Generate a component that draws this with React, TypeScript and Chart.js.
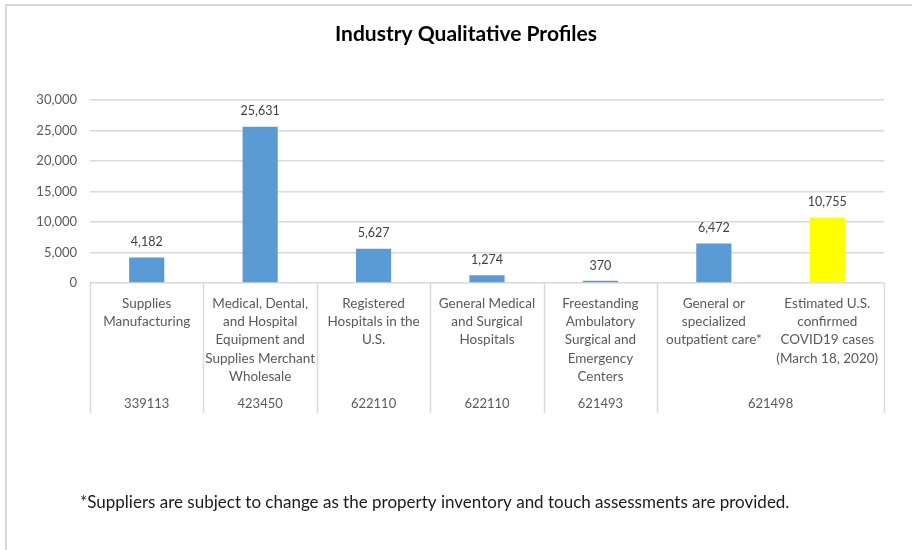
import React, { useEffect, useRef } from "react";
import { Chart, registerables } from "chart.js";

Chart.register(...registerables);

const TITLE = "Industry Qualitative Profiles";
const FOOTNOTE =
  "*Suppliers are subject to change as the property inventory and touch assessments are provided.";

const categories: string[][] = [
  ["Supplies", "Manufacturing"],
  ["Medical, Dental,", "and Hospital", "Equipment and", "Supplies Merchant", "Wholesale"],
  ["Registered", "Hospitals in the", "U.S."],
  ["General Medical", "and Surgical", "Hospitals"],
  ["Freestanding", "Ambulatory", "Surgical and", "Emergency", "Centers"],
  ["General or", "specialized", "outpatient care*"],
  ["Estimated U.S.", "confirmed", "COVID19 cases", "(March 18, 2020)"],
];
const values: number[] = [4182, 25631, 5627, 1274, 370, 6472, 10755];
const barColors: string[] = [
  "#5B9BD5",
  "#5B9BD5",
  "#5B9BD5",
  "#5B9BD5",
  "#5B9BD5",
  "#5B9BD5",
  "#FFFF00",
];
const codeLabels: string[] = ["339113", "423450", "622110", "622110", "621493", "621498"];
const codeSpans: number[] = [1, 1, 1, 1, 1, 2];
const yMax = 30000;
const yStep = 5000;

const FONT = "Lato, 'Open Sans', sans-serif";
const TEXT = "#595959";
const GRID = "#d9d9d9";

const fmt = (v: number) => v.toLocaleString("en-US");

const decorPlugin = {
  id: "decor",
  beforeDraw(chart: any) {
    const ctx = chart.ctx;
    ctx.save();
    ctx.fillStyle = "#ffffff";
    ctx.fillRect(0, 0, chart.width, chart.height);
    ctx.strokeStyle = GRID;
    ctx.lineWidth = 2;
    ctx.beginPath();
    ctx.moveTo(6, chart.height);
    ctx.lineTo(6, 5);
    ctx.lineTo(chart.width, 5);
    ctx.stroke();
    ctx.restore();
  },
  afterDatasetsDraw(chart: any) {
    const ctx = chart.ctx;
    const meta = chart.getDatasetMeta(0);
    ctx.save();
    ctx.font = `12.5px ${FONT}`;
    ctx.fillStyle = "#404040";
    ctx.textAlign = "center";
    ctx.textBaseline = "bottom";
    meta.data.forEach((el: any, i: number) => {
      ctx.fillText(fmt(values[i]), el.x, el.y - 9);
    });
    ctx.restore();
  },
  afterDraw(chart: any) {
    const ctx = chart.ctx;
    const xs = chart.scales.x;
    const area = chart.chartArea;
    const n = categories.length;
    const catW = (xs.right - xs.left) / n;
    ctx.save();
    // table separators
    ctx.strokeStyle = GRID;
    ctx.lineWidth = 1.5;
    let k = 0;
    const bounds = [0];
    codeSpans.forEach((s) => {
      k += s;
      bounds.push(k);
    });
    bounds.forEach((b) => {
      const x = Math.round(xs.left + b * catW) + 0.5;
      ctx.beginPath();
      ctx.moveTo(x, area.bottom);
      ctx.lineTo(x, xs.bottom);
      ctx.stroke();
    });
    // codes
    ctx.font = `13px ${FONT}`;
    ctx.fillStyle = TEXT;
    ctx.textAlign = "center";
    ctx.textBaseline = "middle";
    let start = 0;
    codeLabels.forEach((c, i) => {
      const cx = xs.left + (start + codeSpans[i] / 2) * catW;
      ctx.fillText(c, cx, xs.bottom - 9);
      start += codeSpans[i];
    });
    // title
    ctx.font = `bold 21px ${FONT}`;
    ctx.fillStyle = "#000000";
    ctx.fillText(TITLE, 466, 34);
    // footnote
    ctx.font = `17px ${FONT}`;
    ctx.fillStyle = "#1a1a1a";
    ctx.textAlign = "left";
    ctx.fillText(FOOTNOTE, 80, 503);
    ctx.restore();
  },
};

export default function App() {
  const ref = useRef<HTMLCanvasElement | null>(null);
  useEffect(() => {
    if (!ref.current) return;
    const chart = new Chart(ref.current, {
      type: "bar",
      data: {
        labels: categories,
        datasets: [
          {
            data: values,
            backgroundColor: barColors,
            barPercentage: 0.31,
            categoryPercentage: 1,
          },
        ],
      },
      options: {
        responsive: true,
        maintainAspectRatio: false,
        animation: false,
        layout: { padding: { top: 100, right: 28, bottom: 137, left: 0 } },
        plugins: {
          legend: { display: false },
          title: { display: false },
          tooltip: { enabled: false },
        },
        scales: {
          x: {
            grid: { display: false },
            border: { display: false },
            ticks: {
              color: TEXT,
              font: { family: FONT, size: 13.5, lineHeight: 1.36 },
              padding: 3,
              maxRotation: 0,
              autoSkip: false,
            },
            afterFit(scale: any) {
              scale.height = 130;
            },
          },
          y: {
            min: 0,
            max: yMax,
            grid: { color: GRID, lineWidth: 1.5, drawTicks: false },
            border: { display: false },
            ticks: {
              stepSize: yStep,
              color: TEXT,
              font: { family: FONT, size: 13 },
              padding: 13,
              callback: (v: any) => fmt(Number(v)),
            },
            afterFit(scale: any) {
              scale.width = 90;
            },
          },
        },
      },
      plugins: [decorPlugin],
    });
    return () => chart.destroy();
  }, []);
  return (
    <div style={{ position: "absolute", left: 0, top: 0, width: 912, height: 550 }}>
      <canvas ref={ref} />
    </div>
  );
}
